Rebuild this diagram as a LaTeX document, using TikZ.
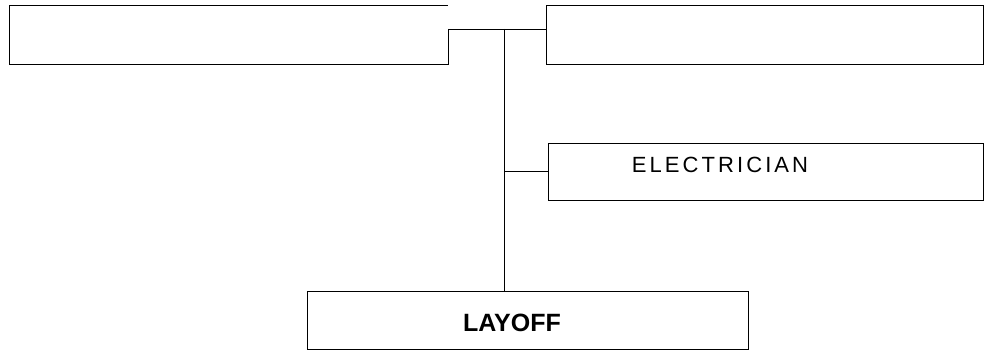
\documentclass[tikz,border=0pt]{standalone}
\usepackage{fontspec}
\setmainfont{Liberation Sans}
\usetikzlibrary{positioning,calc}

\begin{document}
\begin{tikzpicture}[x=1pt, y=1pt, line width=0.9pt,
    box/.style={minimum width=437pt, minimum height=58pt, inner sep=0pt, outer sep=0pt},
    wire/.style={line width=0.7pt}]
\useasboundingbox (0,0) rectangle (990,351);
% boxes
\node[box, minimum width=439pt, minimum height=59pt] (lft) at (228.5,316.5) {};
\node[box, draw, minimum height=59pt] (topR) at (764.5,316.5) {};
\node[box, draw, minimum width=435pt, minimum height=57pt] (elec) at (765.5,179.5) {};
\node[box, draw, minimum width=441pt] (layoff) at (527.5,31) {};
% texts
\node[font=\fontsize{22}{22}\selectfont\addfontfeatures{LetterSpace=14}] (elecLbl) at (720,186) {ELECTRICIAN};
\node[font=\fontsize{25}{25}\selectfont\bfseries] (layoffLbl) at (512,28) {LAYOFF};
% left box outline, open at the upper right
\coordinate (jn) at (504,322);
\draw (lft.east |- jn) -- (lft.south east) -- (lft.south west) -- (lft.north west) -- (lft.north east);
% connectors
\draw[wire] (lft.east |- jn) -- (topR.west |- jn);
\draw[wire] (jn) -- (jn |- layoff.north);
\draw[wire] (jn |- elec.west) -- (elec.west);
\end{tikzpicture}
\end{document}
